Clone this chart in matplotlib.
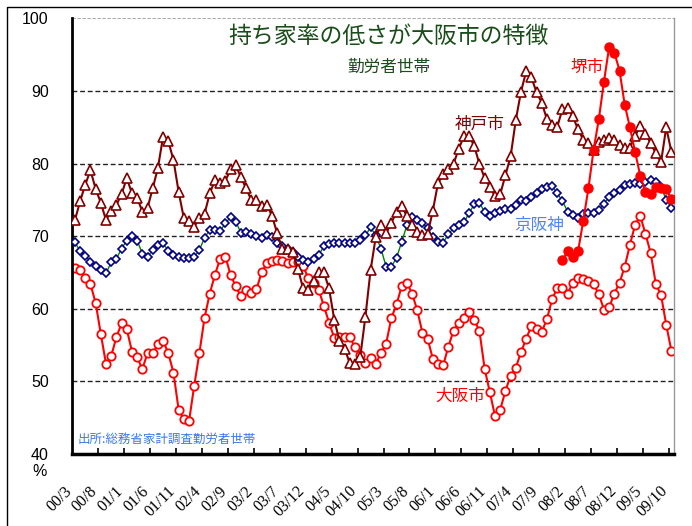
import numpy as np
import matplotlib
matplotlib.use("Agg")
import matplotlib.pyplot as plt
from matplotlib.lines import Line2D

plt.rcParams['font.family'] = ['Liberation Sans', 'Noto Sans CJK JP']

# monthly, 2000/3 .. 2009/10 (116 months)
tick_labels = ['00/3', '00/8', '01/1', '01/6', '01/11', '02/4', '02/9', '03/2',
               '03/7', '03/12', '04/5', '04/10', '05/3', '05/8', '06/1', '06/6',
               '06/11', '07/4', '07/9', '08/2', '08/7', '08/12', '09/5', '09/10']

kobe = [72.2, 74.8, 77.1, 79.1, 76.5, 74.6, 72.2, 73.5, 74.3, 75.8,
        78.0, 75.9, 75.3, 73.4, 73.9, 76.6, 79.4, 83.7, 83.1, 80.5,
        76.1, 72.5, 72.1, 71.3, 72.5, 73.1, 75.9, 77.7, 77.3, 77.6,
        79.2, 79.8, 78.1, 76.6, 75.0, 75.0, 74.1, 74.3, 72.8, 70.4,
        68.3, 68.3, 67.8, 65.5, 62.8, 62.6, 63.8, 65.0, 65.0, 62.8,
        58.5, 55.6, 54.5, 52.5, 52.4, 53.3, 58.9, 65.3, 69.9, 71.5,
        70.4, 71.8, 73.4, 74.1, 72.8, 71.5, 70.6, 70.1, 70.3, 73.5,
        77.3, 78.5, 79.2, 80.0, 82.0, 83.8, 83.8, 82.4, 79.9, 78.0,
        76.8, 75.5, 75.8, 78.4, 81.0, 86.0, 89.9, 92.7, 91.9, 89.8,
        88.4, 86.1, 85.3, 85.1, 87.5, 87.6, 86.5, 84.7, 83.3, 82.8,
        81.9, 83.0, 83.2, 83.5, 83.2, 82.6, 82.2, 82.2, 83.8, 85.2,
        84.1, 82.8, 81.4, 80.2, 85.0, 81.6]

keihanshin = [69.2, 67.9, 67.3, 66.5, 65.9, 65.3, 64.9, 66.4, 66.9, 68.3,
              69.4, 70.0, 69.4, 67.6, 67.2, 68.1, 68.8, 69.0, 68.0, 67.4,
              67.2, 67.0, 67.0, 67.2, 68.1, 69.8, 70.9, 70.9, 70.7, 71.8,
              72.6, 72.0, 70.5, 70.6, 70.3, 70.0, 69.7, 70.2, 69.9, 69.0,
              68.7, 68.3, 67.8, 67.2, 66.7, 66.5, 66.8, 67.4, 68.6, 68.9,
              69.0, 69.0, 69.0, 69.1, 69.1, 69.5, 70.1, 71.2, 70.1, 68.3,
              65.8, 65.8, 67.0, 69.2, 71.5, 72.6, 72.2, 71.8, 71.1, 69.9,
              69.2, 69.1, 70.3, 71.1, 71.5, 71.9, 73.2, 74.4, 74.6, 73.3,
              72.8, 73.2, 73.5, 73.7, 73.8, 74.3, 75.0, 74.8, 75.4, 75.9,
              76.5, 76.8, 76.9, 75.9, 74.8, 73.4, 72.9, 72.5, 73.1, 73.2,
              73.2, 73.6, 74.5, 75.4, 75.9, 76.4, 77.1, 77.2, 77.3, 77.2,
              77.5, 77.8, 77.4, 76.8, 75.0, 73.9]

osaka = [65.6, 65.4, 64.2, 63.4, 60.8, 56.5, 52.4, 53.5, 56.1, 58.0,
         57.2, 54.1, 53.3, 51.7, 53.9, 53.9, 55.1, 55.6, 53.9, 51.2,
         46.1, 44.8, 44.5, 49.4, 53.9, 58.8, 62.1, 64.7, 66.9, 67.2,
         64.7, 63.1, 61.7, 62.6, 62.2, 62.7, 65.0, 66.3, 66.6, 66.7,
         66.6, 66.3, 66.5, 66.5, 65.9, 64.2, 63.6, 62.6, 60.4, 58.1,
         56.0, 56.1, 56.1, 56.1, 54.7, 53.6, 52.5, 53.2, 52.4, 53.9,
         55.2, 58.7, 60.6, 63.1, 63.6, 62.1, 59.8, 56.7, 55.9, 53.1,
         52.4, 52.2, 54.8, 57.0, 58.0, 58.8, 59.5, 58.5, 56.9, 51.7,
         48.5, 45.2, 46.1, 48.7, 50.8, 51.9, 54.0, 55.9, 57.6, 57.2,
         56.8, 58.6, 61.3, 62.9, 62.9, 62.1, 63.6, 64.3, 64.1, 63.8,
         63.4, 62.0, 59.9, 60.2, 62.1, 63.6, 65.8, 68.8, 71.6, 72.8,
         70.3, 67.7, 63.4, 61.9, 57.8, 54.2]

# 堺市: data from 08/1 onward
sakai_start = 94
sakai = [66.7, 67.9, 67.1, 67.9, 72.1, 76.6, 81.9, 86.1, 91.3, 96.1,
         95.3, 92.8, 88.1, 85.0, 81.6, 78.3, 76.1, 75.8, 76.8, 76.7,
         76.5, 75.1]

x = np.arange(len(kobe))
x_sakai = np.arange(sakai_start, sakai_start + len(sakai))

fig = plt.figure(figsize=(6.92, 5.26), dpi=100)
ax = fig.add_axes([0.1045, 0.1369, 0.8695, 0.8281])

for v in [50, 60, 70, 80, 90]:
    ax.axhline(v, color='#222222', lw=1, ls=(0, (3.5, 2)), zorder=1)
ax.axhline(100, color='#aaaaaa', lw=0.8, ls=(0, (3, 1.5)), zorder=1)

ax.plot(x, keihanshin, color='#008000', lw=1, marker='D', ms=3.6,
        mfc='white', mec='#000080', mew=1.2, zorder=3)
ax.plot(x, osaka, color='#ff0000', lw=1.5, marker='o', ms=6,
        mfc='white', mec='#ff0000', mew=1.3, zorder=2)
ax.plot(x, kobe, color='#800000', lw=1.5, marker='^', ms=6.5,
        mfc='white', mec='#800000', mew=1.2, zorder=4)
ax.plot(x_sakai, sakai, color='#ff0000', lw=1.5, marker='o', ms=6.5,
        mfc='#ff0000', mec='#ff0000', zorder=5)

ax.set_xlim(-0.5, len(kobe) - 0.5)
ax.set_ylim(40, 100)

ax.set_xticks(np.arange(0, len(kobe), 5))
ax.set_xticklabels(tick_labels, rotation=45, ha='right', va='top',
                   family='Liberation Serif', fontsize=11.5)
ax.tick_params(axis='x', which='major', length=0, pad=21)
ax.set_xticks(np.arange(4.5, len(kobe) - 0.5, 5), minor=True)
ax.tick_params(axis='x', which='minor', direction='in', length=4, width=1.2)

ax.set_yticks(np.arange(40, 101, 10))
ax.tick_params(axis='y', length=0, pad=17, labelsize=11.5)

ax.spines['top'].set_visible(False)
ax.spines['right'].set_color('#999999')
ax.spines['right'].set_linewidth(1)
ax.spines['left'].set_linewidth(2)
ax.spines['bottom'].set_linewidth(2.5)

jp = 'Noto Sans CJK JP'
fig.text(388 / 692, 1 - 36 / 526, '持ち家率の低さが大阪市の特徴',
         ha='center', va='center', fontsize=16.5, color='#1a4d1a', family=jp)
fig.text(389 / 692, 1 - 67 / 526, '勤労者世帯',
         ha='center', va='center', fontsize=12, color='#1a4d1a', family=jp)

ax.text(78.1, 85.4, '神戸市', ha='center', va='center', fontsize=12,
        color='#800000', family=jp)
ax.text(89.5, 71.5, '京阪神', ha='center', va='center', fontsize=12,
        color='#4f86f7', family=jp)
ax.text(74.3, 47.9, '大阪市', ha='center', va='center', fontsize=12,
        color='#ff0000', family=jp)
ax.text(98.7, 93.2, '堺市', ha='center', va='center', fontsize=12,
        color='#ff0000', family=jp)
ax.text(0.6, 42.0, '出所:総務省家計調査勤労者世帯', ha='left', va='center',
        fontsize=9, color='#3a78e8', family=jp)

fig.text(40 / 692, 1 - 472 / 526, '%', ha='center', va='center', fontsize=11.5)

# chart border (top/left)
fig.add_artist(Line2D([7 / 692, 7 / 692, 1], [0, 1 - 7 / 526, 1 - 7 / 526],
                      transform=fig.transFigure, color='black', lw=1))

fig.savefig('out.png', dpi=100)
